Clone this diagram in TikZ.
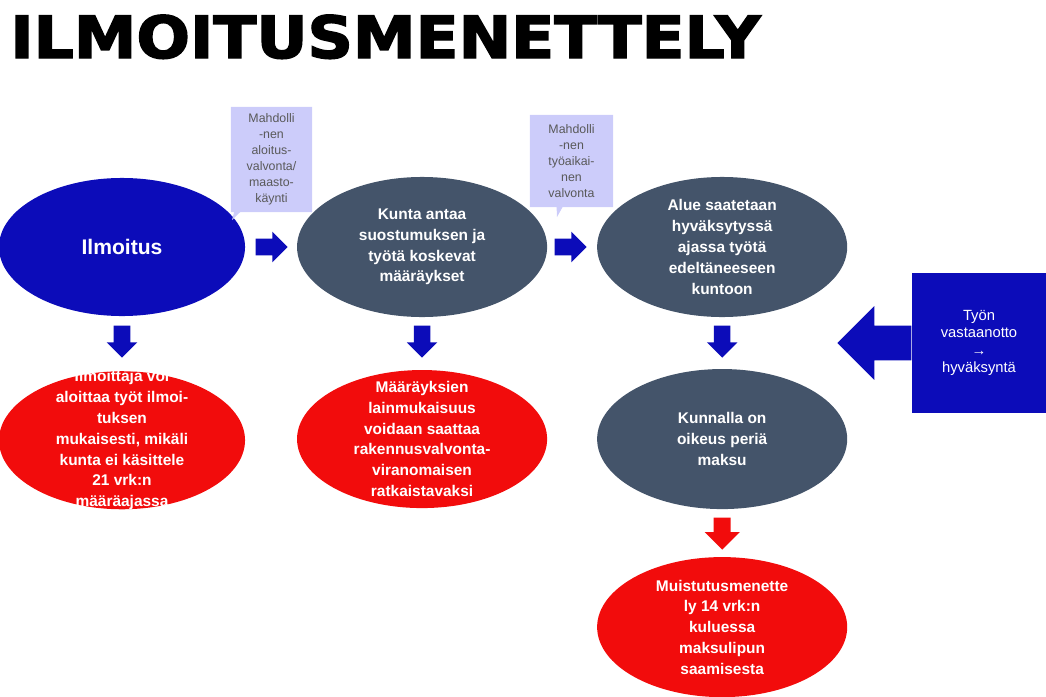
\documentclass[tikz,border=0pt]{standalone}
\usepackage{fontspec}
\setmainfont{Liberation Sans}
\newfontface\titlefont{DejaVu Sans Bold}[FakeBold=2.5]
\usetikzlibrary{positioning,shapes.geometric,shapes.arrows,shapes.callouts,calc}
\definecolor{ilmblue}{RGB}{12,12,185}
\definecolor{slate}{RGB}{68,84,106}
\definecolor{ilmred}{RGB}{242,12,12}
\definecolor{lavender}{RGB}{204,204,250}

\begin{document}
\begin{tikzpicture}[
            x=0.025cm, y=-0.025cm,
            node distance=7.5cm,
            bubble/.style={ellipse, minimum width=6.25cm, minimum height=3.5cm, inner sep=0pt,
                text=white, align=center, font=\bfseries\fontsize{11}{14.8}\selectfont},
            darkbubble/.style={bubble, fill=slate},
            redbubble/.style={bubble, fill=ilmred, inner ysep=-0.8cm},
            note/.style={rectangle callout, fill=lavender, text=black!65, align=center,
                font=\fontsize{8.8}{11.4}\selectfont, inner sep=0pt, callout pointer width=0.15cm},
            rightarr/.style={single arrow, fill=ilmblue, minimum height=0.8cm, minimum width=0.75cm,
                single arrow head extend=0.175cm, inner xsep=0pt, inner ysep=0.2cm},
            downarr/.style={rightarr, shape border rotate=270, inner xsep=0.2cm, inner ysep=0pt},
            ]
            \useasboundingbox (0,0) rectangle (1046,697);

            \node (title) [anchor=base west, inner sep=0pt] at (10,58)
                {\resizebox{18.75cm}{1.08cm}{\titlefont ILMOITUSMENETTELY}};

            % top row
            \node (E1) [bubble, fill=ilmblue, minimum width=6.15cm, minimum height=3.45cm,
                font=\bfseries\fontsize{15}{18}\selectfont] at (122,247) {Ilmoitus};
            \node (E2) [right of=E1] [darkbubble] {Kunta antaa\\suostumuksen ja\\työtä koskevat\\määräykset};
            \node (E3) [right of=E2] [darkbubble] {Alue saatetaan\\hyväksytyssä\\ajassa työtä\\edeltäneeseen\\kuntoon};

            % second row
            \node (R1) [below of=E1, node distance=4.83cm] [redbubble, minimum width=6.15cm, minimum height=3.45cm]
                {Ilmoittaja voi\\aloittaa työt ilmoi-\\tuksen\\mukaisesti, mikäli\\kunta ei käsittele\\21 vrk:n\\määräajassa};
            \node (R2) [below of=E2, node distance=4.8cm] [redbubble, minimum height=3.45cm]
                {Määräyksien\\lainmukaisuus\\voidaan saattaa\\rakennusvalvonta-\\viranomaisen\\ratkaistavaksi};
            \node (E4) [below of=E3, node distance=4.8cm] [darkbubble] {Kunnalla on\\oikeus periä\\maksu};
            \node (R3) [below of=E4, node distance=4.7cm] [redbubble]
                {Muistutusmenette\\ly 14 vrk:n\\kuluessa\\maksulipun\\saamisesta};

            % notes
            \node (N1) [note, minimum width=2.03cm, minimum height=2.63cm,
                callout absolute pointer={(232,220)}] at (271.5,159.5)
                {Mahdolli\\-nen\\aloitus-\\valvonta/\\maasto-\\käynti};
            \node (N2) [note, minimum width=2.08cm, minimum height=2.3cm,
                callout absolute pointer={(557,217)}] at (571.5,161)
                {Mahdolli\\-nen\\työaikai-\\nen\\valvonta};

            % block arrows
            \node (A1) [rightarr, anchor=tail] at ($(E1.east)+(10,0)$) {};
            \node (A2) [rightarr, anchor=tail] at ($(E2.east)+(7,0)$) {};
            \node (D1) [downarr, anchor=tail] at ($(E1.south)+(0,9)$) {};
            \node (D2) [downarr, anchor=tail] at ($(E2.south)+(0,8)$) {};
            \node (D3) [downarr, anchor=tail] at ($(E3.south)+(0,8)$) {};
            \node (D4) [downarr, fill=ilmred, minimum width=0.88cm, single arrow head extend=0.22cm,
                anchor=tail] at ($(E4.south)+(0,8)$) {};

            % acceptance box
            \node (box) [rectangle, fill=ilmblue, minimum width=3.35cm, minimum height=3.5cm,
                text=white, align=center, font=\fontsize{10.5}{12.4}\selectfont] at (979,343)
                {Työn\\vastaanotto\\→\\hyväksyntä};
            \node (back) [single arrow, fill=ilmblue, shape border rotate=180, inner xsep=0pt,
                inner ysep=0.425cm, minimum height=1.85cm, minimum width=1.83cm,
                single arrow head extend=0.49cm, anchor=tail] at (box.west) {};
        \end{tikzpicture}
\end{document}
